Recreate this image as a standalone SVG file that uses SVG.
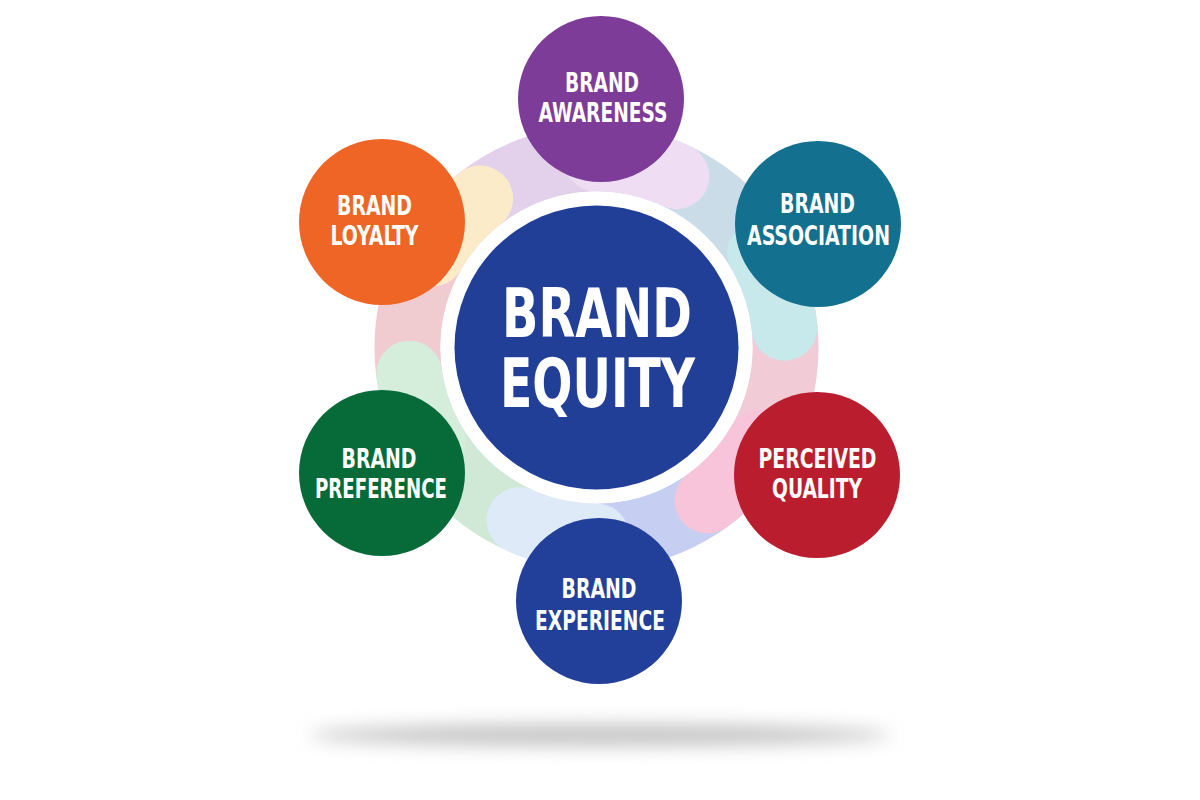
<svg xmlns="http://www.w3.org/2000/svg" width="1200" height="800" viewBox="0 0 1200 800">
  <defs>
    <filter id="blur" x="-20%" y="-200%" width="140%" height="500%">
      <feGaussianBlur stdDeviation="9"/>
    </filter>
    <style>
      .seg { fill: none; stroke-width: 66; stroke-linecap: butt; }
      .blob { fill: none; stroke-width: 66; stroke-linecap: round; }
      .lbl { fill: #ffffff; font-family: "DejaVu Sans Condensed", "DejaVu Sans", "Liberation Sans", sans-serif; font-stretch: condensed; font-weight: 700; font-size: 27px; text-anchor: middle; }
      .big { fill: #ffffff; font-family: "DejaVu Sans Condensed", "DejaVu Sans", "Liberation Sans", sans-serif; font-stretch: condensed; font-weight: 700; font-size: 68px; text-anchor: middle; }
    </style>
  </defs>
  <rect width="1200" height="800" fill="#ffffff"/>

  <!-- shadow -->
  <ellipse cx="600" cy="735" rx="290" ry="11" fill="#c4c4c4" filter="url(#blur)"/>

  <!-- pastel ring -->
  <g id="connectors">
    <path class="seg" stroke="#CADCE7" d="M596.5,158.5 A189,189 0 0 1 760.2,253"/>
    <path class="seg" stroke="#F1CBD6" d="M760.2,253 A189,189 0 0 1 760.2,442"/>
    <path class="seg" stroke="#C6CFF1" d="M760.2,442 A189,189 0 0 1 596.5,536.5"/>
    <path class="seg" stroke="#D0E9D6" d="M596.5,536.5 A189,189 0 0 1 432.8,442"/>
    <path class="seg" stroke="#F0CCD0" d="M432.8,442 A189,189 0 0 1 432.8,253"/>
    <path class="seg" stroke="#E3D1EB" d="M432.8,253 A189,189 0 0 1 596.5,158.5"/>

    <path class="blob" stroke="#EEDDF3" d="M596.5,158.5 A189,189 0 0 1 676.4,176.2"/>
    <path class="blob" stroke="#C8E9EB" d="M760.2,253 A189,189 0 0 1 784.5,327.7"/>
    <path class="blob" stroke="#F7C4DA" d="M760.2,442 A189,189 0 0 1 707.6,500.4"/>
    <path class="blob" stroke="#DEEAF8" d="M596.5,536.5 A189,189 0 0 1 519.6,520.2"/>
    <path class="blob" stroke="#D5EEDC" d="M432.8,442 A189,189 0 0 1 409.3,373.8"/>
    <path class="blob" stroke="#FBEBC9" d="M432.8,253 A189,189 0 0 1 480.1,198.6"/>
  </g>

  <!-- center -->
  <g id="brand-equity">
    <circle cx="596.5" cy="347.5" r="156" fill="#ffffff"/>
    <circle cx="596.5" cy="347.5" r="142" fill="#223F98"/>
    <text class="big" x="597" y="337" textLength="190" lengthAdjust="spacingAndGlyphs">BRAND</text>
    <text class="big" x="597.5" y="407" textLength="195" lengthAdjust="spacingAndGlyphs">EQUITY</text>
  </g>

  <g id="brand-awareness">
    <circle cx="601" cy="99" r="83" fill="#7D3C98"/>
    <text class="lbl" x="602" y="92" textLength="74" lengthAdjust="spacingAndGlyphs">BRAND</text>
    <text class="lbl" x="603" y="122" textLength="129" lengthAdjust="spacingAndGlyphs">AWARENESS</text>
  </g>

  <g id="brand-loyalty">
    <circle cx="382" cy="222" r="83" fill="#EE6526"/>
    <text class="lbl" x="374.5" y="215" textLength="75" lengthAdjust="spacingAndGlyphs">BRAND</text>
    <text class="lbl" x="374.5" y="245" textLength="88" lengthAdjust="spacingAndGlyphs">LOYALTY</text>
  </g>

  <g id="brand-association">
    <circle cx="818" cy="224" r="83" fill="#13708F"/>
    <text class="lbl" x="817.5" y="213" textLength="75" lengthAdjust="spacingAndGlyphs">BRAND</text>
    <text class="lbl" x="818.5" y="245" textLength="143" lengthAdjust="spacingAndGlyphs">ASSOCIATION</text>
  </g>

  <g id="brand-preference">
    <circle cx="382" cy="473" r="83" fill="#076B39"/>
    <text class="lbl" x="379" y="468" textLength="75" lengthAdjust="spacingAndGlyphs">BRAND</text>
    <text class="lbl" x="381" y="498" textLength="132" lengthAdjust="spacingAndGlyphs">PREFERENCE</text>
  </g>

  <g id="perceived-quality">
    <circle cx="817" cy="475" r="83" fill="#BA1E2E"/>
    <text class="lbl" x="817.5" y="468" textLength="118" lengthAdjust="spacingAndGlyphs">PERCEIVED</text>
    <text class="lbl" x="817" y="498" textLength="90" lengthAdjust="spacingAndGlyphs">QUALITY</text>
  </g>

  <g id="brand-experience">
    <circle cx="599" cy="601" r="83" fill="#22409A"/>
    <text class="lbl" x="599" y="598" textLength="75" lengthAdjust="spacingAndGlyphs">BRAND</text>
    <text class="lbl" x="600" y="630" textLength="130" lengthAdjust="spacingAndGlyphs">EXPERIENCE</text>
  </g>
</svg>
